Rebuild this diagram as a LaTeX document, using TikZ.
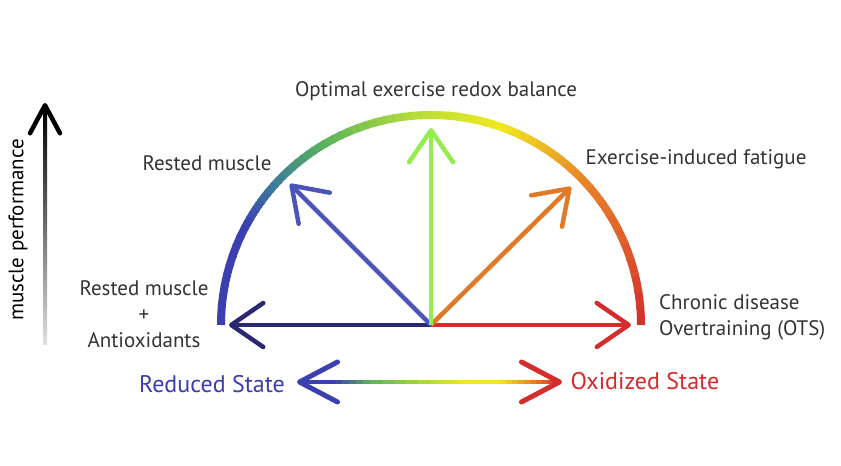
\documentclass[tikz,border=0pt]{standalone}
\usepackage{fontspec}
\setmainfont{PT Sans}
\usetikzlibrary{arrows.meta}
\definecolor{textgray}{HTML}{333333}
\definecolor{cred}{HTML}{D42D2D}
\definecolor{corange}{HTML}{E8892A}
\definecolor{cyellow}{HTML}{F2E81E}
\definecolor{cyg}{HTML}{B5DC3C}
\definecolor{cgreen}{HTML}{5CB45A}
\definecolor{cteal}{HTML}{3B7E9A}
\definecolor{cblue}{HTML}{3C3FB0}
\definecolor{navy}{HTML}{2A2970}
\definecolor{dblue}{HTML}{4B55B8}
\definecolor{lgreen}{HTML}{94EC4E}
\definecolor{dorange}{HTML}{E07A28}
\definecolor{redtxt}{HTML}{D42A2A}
\definecolor{bluetxt}{HTML}{3B3DA8}
\begin{document}
\begin{tikzpicture}[x=1pt,y=1pt,
  txt/.style={text=textgray, font=\fontsize{21}{26}\selectfont, inner sep=0pt},
  bigtxt/.style={font=\fontsize{24}{26}\selectfont, inner sep=0pt},
  arr/.style={line width=4.5pt, -{Straight Barb[length=32pt,width=44pt,round]}},
  seg/.style={line width=8pt}]
\useasboundingbox (0,0) rectangle (841,466);
\coordinate (O) at (431,141);
% gradient arc
\foreach \sa/\ea/\ca/\cb in {0/45/cred/corange,45/70/corange/cyellow,70/95/cyellow/cyg,95/120/cyg/cgreen,120/138/cgreen/cteal,138/152/cteal/cblue,152/180/cblue/cblue}{
  \foreach \i in {0,...,9}{
    \pgfmathsetmacro\s{\sa+(\ea-\sa)*\i/10}
    \pgfmathsetmacro\e{min(\s+(\ea-\sa)/10+0.6,180)}
    \pgfmathsetmacro\p{100*(1-(\i+0.5)/10)}
    \draw[seg, draw=\ca!\p!\cb] (O) ++(\s:210) arc[start angle=\s, end angle=\e, radius=210];
  }
}
% arrows from centre
\coordinate (tL) at (229,141);
\coordinate (tR) at (631,141);
\coordinate (tU) at (431,338);
\coordinate (tUL) at (290,282);
\coordinate (tUR) at (571,279);
\draw[arr, navy] (O) -- (tL);
\draw[arr, cred] (O) -- (tR);
\draw[arr, dblue] (O) -- (tUL);
\draw[arr, dorange] (O) -- (tUR);
\draw[arr, lgreen] (O) -- (tU);
% bottom gradient arrow
\coordinate (bL) at (297,84);
\coordinate (bR) at (562,84);
\foreach \sa/\ea/\ca/\cb in {300/335/cblue/cblue,335/370/cblue/cgreen,370/430/cgreen/cyg,430/465/cyg/cyellow,465/500/cyellow/cyellow,500/530/cyellow/corange,530/560/corange/cred}{
  \foreach \i in {0,...,4}{
    \pgfmathsetmacro\s{\sa+(\ea-\sa)*\i/5}
    \pgfmathsetmacro\e{\s+(\ea-\sa)/5+0.6}
    \pgfmathsetmacro\p{100*(1-(\i+0.5)/5)}
    \fill[\ca!\p!\cb] (\s,82) rectangle (\e,86);
  }
}
\draw[cblue, line width=5pt, -{Straight Barb[length=38pt,width=40pt,round]}] (306,84) -- (bL);
\draw[cred, line width=5pt, -{Straight Barb[length=38pt,width=40pt,round]}] (553,84) -- (bR);
% vertical performance arrow
\coordinate (vB) at (45,121);
\coordinate (vT) at (45,363);
\shade[top color=black, bottom color=black!12] (43,121) rectangle (47,356);
\draw[black, line width=4.5pt, -{Straight Barb[length=28pt,width=30pt,round]}] (45,350) -- (vT);
\node[txt, rotate=90, text=black] (mp) at (18,236) {muscle performance};
% labels
\node[txt] (opt) at (436,375) {Optimal exercise redox balance};
\node[txt] (rm) at (207,303) {Rested muscle};
\node[txt] (eif) at (696,307) {Exercise-induced fatigue};
\node[txt, align=center] (rma) at (144,152) {Rested muscle\\+\\Antioxidants};
\node[txt, align=left, anchor=west] (cd) at (659,149) {Chronic disease\\Overtraining (OTS)};
\node[bigtxt, text=bluetxt] (red) at (212,82) {Reduced State};
\node[bigtxt, text=redtxt] (oxi) at (645,85) {Oxidized State};
\end{tikzpicture}
\end{document}
